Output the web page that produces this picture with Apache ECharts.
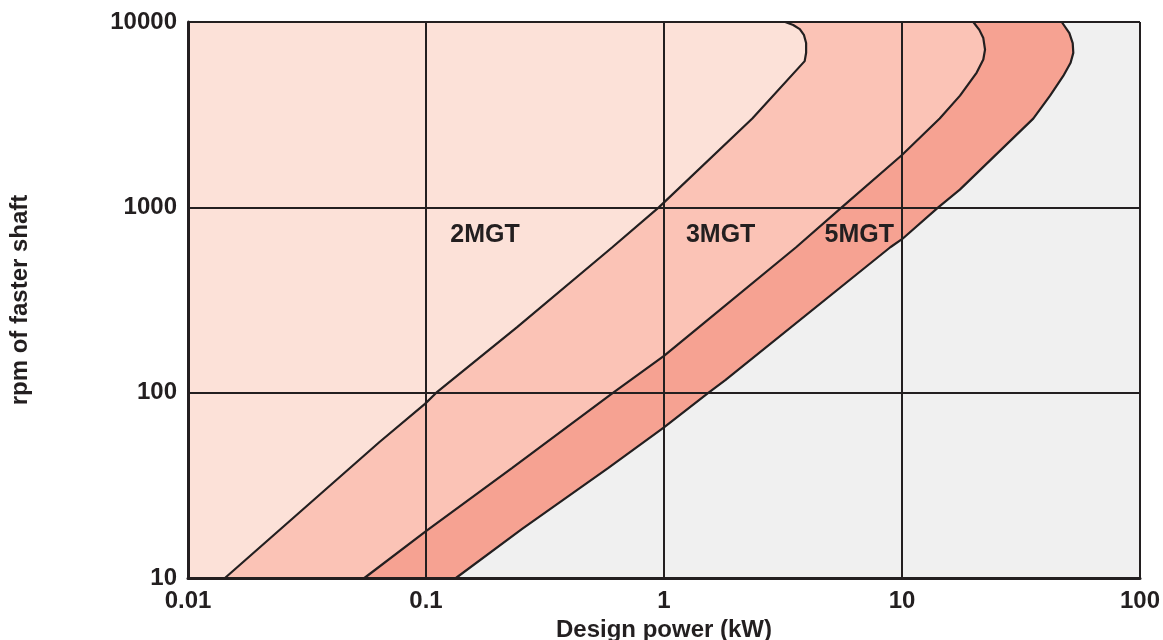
<!DOCTYPE html>
<html>
<head>
<meta charset="utf-8">
<script src="https://cdn.jsdelivr.net/npm/echarts@6.0.0/dist/echarts.min.js"></script>
<style>
  html, body { margin: 0; padding: 0; background: #fff; }
  #chart { width: 1163px; height: 640px; }
</style>
</head>
<body>
<div id="chart"></div>
<script>
// gearbox envelopes: rpm of faster shaft vs design power, log-log
const xTicks = [0.01, 0.1, 1, 10, 100]
const xTickLabels = ['0.01', '0.1', '1', '10', '100']
const yTicks = [10, 100, 1000, 10000]
const yTickLabels = ['10', '100', '1000', '10000']

// right-hand edge of each size (x = kW, y = rpm), read bottom to top
const b2mgtX = [0.0143, 0.0636, 0.099, 0.1105, 0.2415, 0.6065, 0.951, 2.35, 3.90, 3.955, 3.955, 3.87, 3.72, 3.49, 3.23]
const b2mgtY = [10, 54, 87, 100, 226, 609, 1000, 3013, 6150, 6820, 7700, 8530, 9150, 9640, 10000]

const b3mgtX = [0.0551, 0.1, 0.2296, 0.612, 1, 1.403, 3.59, 5.58, 10, 14.4, 17.53, 20.6, 21.96, 22.33, 21.96, 21.13, 19.93]
const b3mgtY = [10, 17.9, 39.2, 100, 158, 226, 609, 1000, 1915, 3013, 4006, 5336, 6280, 7097, 8190, 9066, 10000]

const b5mgtX = [0.1336, 0.2535, 0.582, 1, 1.54, 1.81, 8.93, 10, 14.2, 17.5, 35.6, 41.9, 47.6, 51.1, 52.45, 52.15, 50.5, 46.9]
const b5mgtY = [10, 18.4, 39.2, 65, 100, 117, 609, 673, 1000, 1246, 3011, 4006, 5117, 6030, 6816, 7701, 8708, 10000]

const labelNames = ['2MGT', '3MGT', '5MGT']
const labelX = [0.177, 1.73, 6.61]
const labelY = [706, 706, 706]

const INK = '#231f20'
const FONT = "'Liberation Sans', Arial, sans-serif"

const zip = (xs, ys) => xs.map((x, i) => [x, ys[i]])
const pts2 = zip(b2mgtX, b2mgtY)
const pts3 = zip(b3mgtX, b3mgtY)
const pts5 = zip(b5mgtX, b5mgtY)

// region left of an edge, closed along the left side of the plot
function regionSeries(pts, color, z) {
  const poly = [[0.01, 10], ...pts, [0.01, 10000]]
  return {
    type: 'custom',
    z,
    silent: true,
    data: [poly[0]],
    renderItem: (params, api) => ({
      type: 'polygon',
      shape: { points: poly.map(p => api.coord(p)) },
      style: { fill: color, stroke: 'none' },
    }),
  }
}

function edgeSeries(pts) {
  return {
    type: 'line',
    z: 6,
    data: pts,
    symbol: 'none',
    silent: true,
    lineStyle: { color: INK, width: 2.2 },
  }
}

function tickFmt(ticks, labels) {
  return v => {
    const i = ticks.findIndex(t => Math.abs(Math.log10(t / v)) < 0.01)
    return i < 0 ? '' : labels[i]
  }
}

const chart = echarts.init(document.getElementById('chart'))
chart.setOption({
  animation: false,
  grid: {
    left: 188, right: 23, top: 22, bottom: 62,
    outerBoundsMode: 'none', containLabel: false,
    show: true, backgroundColor: '#f0f0f0', borderWidth: 0,
  },
  xAxis: {
    type: 'log', logBase: 10, min: 0.01, max: 100, z: 10,
    name: 'Design power (kW)', nameLocation: 'middle', nameGap: 39,
    nameTextStyle: { color: INK, fontSize: 24, fontWeight: 'bold', fontFamily: FONT },
    axisLine: { lineStyle: { color: INK, width: 3 } },
    axisTick: { show: false },
    minorTick: { show: false },
    axisLabel: {
      color: INK, fontSize: 24, fontWeight: 'bold', fontFamily: FONT, margin: 11,
      formatter: tickFmt(xTicks, xTickLabels),
    },
    splitLine: { show: true, lineStyle: { color: INK, width: 2 } },
  },
  yAxis: {
    type: 'log', logBase: 10, min: 10, max: 10000, z: 10,
    name: 'rpm of faster shaft', nameLocation: 'middle', nameGap: 156,
    nameTextStyle: { color: INK, fontSize: 24, fontWeight: 'bold', fontFamily: FONT },
    axisLine: { lineStyle: { color: INK, width: 3 } },
    axisTick: { show: false },
    minorTick: { show: false },
    axisLabel: {
      color: INK, fontSize: 24, fontWeight: 'bold', fontFamily: FONT, margin: 11,
      formatter: tickFmt(yTicks, yTickLabels),
    },
    splitLine: { show: true, lineStyle: { color: INK, width: 2 } },
  },
  series: [
    regionSeries(pts5, '#f6a292', 1),
    regionSeries(pts3, '#fbc3b6', 2),
    regionSeries(pts2, '#fce1d8', 3),
    edgeSeries(pts2),
    edgeSeries(pts3),
    edgeSeries(pts5),
    {
      type: 'custom',
      z: 20,
      silent: true,
      data: labelNames.map((n, i) => [labelX[i], labelY[i]]),
      renderItem: (params, api) => {
        const c = api.coord([api.value(0), api.value(1)])
        return {
          type: 'text',
          x: c[0], y: c[1],
          style: {
            text: labelNames[params.dataIndex],
            fill: INK, font: `bold 25px ${FONT}`,
            align: 'center', verticalAlign: 'middle',
          },
        }
      },
    },
  ],
})
</script>
</body>
</html>
